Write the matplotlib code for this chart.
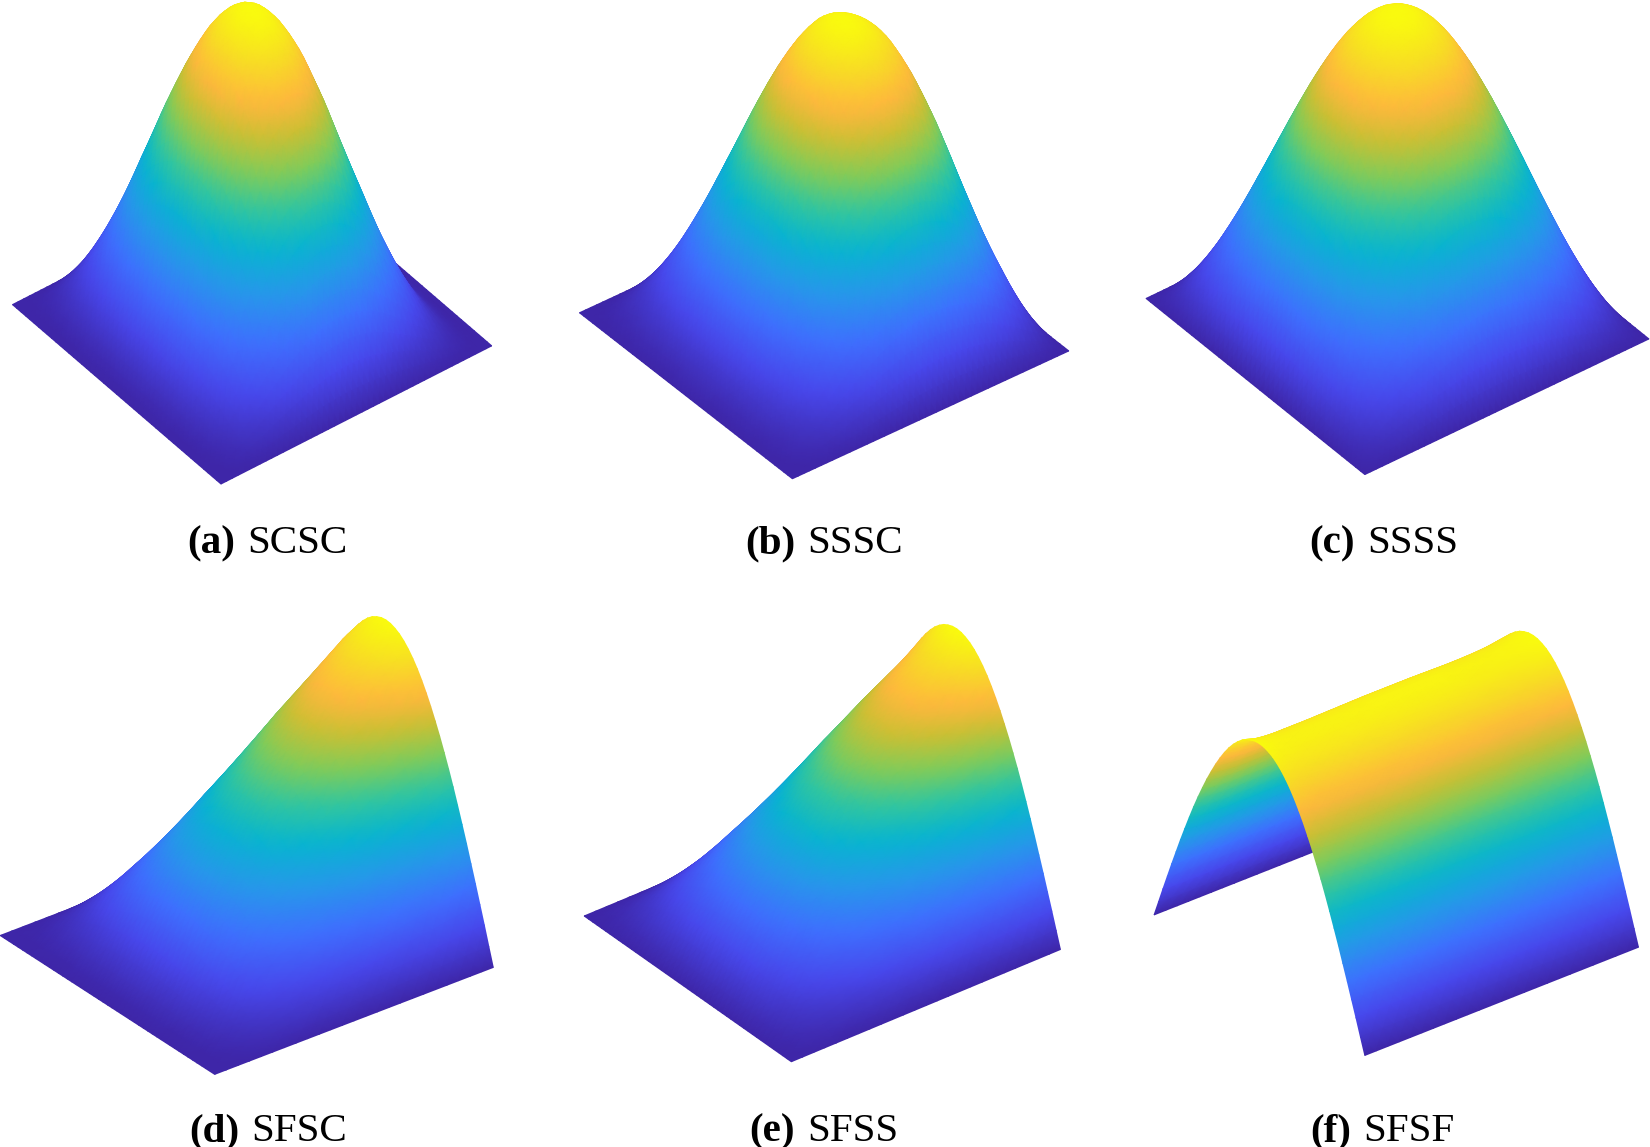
import numpy as np
import matplotlib
matplotlib.use("Agg")
import matplotlib.pyplot as plt
from matplotlib.collections import QuadMesh
from matplotlib.colors import LinearSegmentedColormap
from mpl_toolkits.mplot3d import proj3d

# ---- values: normalised deflection along each plate edge
SS = [0, .065, .131, .195, .259, .321, .383, .442, .5, .556, .609, .659, .707, .751, .793, .831,
      .866, .897, .924, .947, .966, .981, .991, .998, 1,
      .998, .991, .981, .966, .947, .924, .897, .866, .831, .793, .751, .707, .659, .609, .556,
      .5, .442, .383, .321, .259, .195, .131, .065, 0]
CC = [0, .005, .02, .045, .08, .12, .17, .222, .28, .34, .40, .465, .53, .59, .65, .71,
      .77, .82, .87, .908, .94, .965, .985, .996, 1,
      .996, .985, .965, .94, .908, .87, .82, .77, .71, .65, .59, .53, .465, .40, .34,
      .28, .222, .17, .12, .08, .045, .02, .005, 0]
CS = [0, .012, .028, .05, .078, .11, .148, .19, .236, .285, .336, .39, .445, .5, .555, .61,
      .66, .71, .757, .8, .842, .88, .912, .94, .962, .98, .992, 1,
      .998, .99, .98, .965, .947, .925, .897, .86, .82, .772, .72, .658, .59, .522,
      .45, .38, .31, .233, .155, .078, 0]
CF = [0, .01, .04, .08, .13, .19, .25, .31, .365, .42, .465, .51, .555, .60, .64,
      .68, .72, .76, .80, .835, .87, .905, .94, .975, 1]
SF = [0, .04, .09, .14, .19, .24, .29, .34, .39, .44, .49, .53, .57, .61, .65,
      .69, .73, .765, .80, .835, .865, .895, .925, .96, 1]
FF = [1, .985, .978, .975, .975, .975, .975, .976, .977, .978, .979, .98, .98,
      .98, .98, .98, .979, .978, .977, .977, .978, .98, .984, .992, 1]

bold_labels = ["(a)", "(b)", "(c)", "(d)", "(e)", "(f)"]
case_labels = ["SCSC", "SSSC", "SSSS", "SFSC", "SFSS", "SFSF"]
x_profiles = [CC, CS, SS, CF, SF, FF]
y_profiles = [SS, SS, SS, SS, SS, SS]

# ---- layout and style
PARULA = [(0, (.2422, .1504, .6603)), (.125, (.2803, .2782, .9221)),
          (.245, (.2440, .4358, .9988)), (.36, (.1540, .5902, .9218)),
          (.475, (.0297, .7082, .8163)), (.57, (.1938, .7758, .6251)),
          (.66, (.5044, .7993, .3480)), (.75, (.80, .75, .20)),
          (.825, (.996, .72, .24)), (.92, (.97, .87, .14)),
          (1, (.9763, .9831, .0538))]
cmap = LinearSegmentedColormap.from_list("parula", PARULA, 256)
W, H = 1650, 1147
S = 1650 / 1568
elevs = [41.5, 36.9, 38.3, 29.9, 32.8, 30.9]
azim = -127.6
z_aspect = [1.235, 1.09, 1.09, .912, .868, .815]
front = [(210, 460), (753, 455), (1297, 451), (204, 1021), (752, 1009), (1297, 1003)]
right = [(467, 328), (1016, 334), (1567, 322), (469, 920), (1008, 903), (1557, 900)]
cap_split = [235, 795, 1355, 239, 795, 1351]
cap_base = [553, 553, 553, 1141, 1141, 1141]
CAP_SIZE = 29.6


class GouraudSurface3D(QuadMesh):
    """Height field drawn with smooth colour, projected by its Axes3D."""

    def __init__(self, ax, X, Y, Z, **kw):
        self._ax3 = ax
        self._xyz = (X.ravel(), Y.ravel(), Z.ravel())
        super().__init__(np.stack([X, Y], -1).astype(float), shading="gouraud", **kw)
        self.set_array(Z)

    def do_3d_projection(self):
        xs, ys, zs = proj3d.proj_transform(*self._xyz, self._ax3.M)
        self._coordinates = np.stack([xs, ys], -1).reshape(self._coordinates.shape)
        return float(np.min(zs))


def to_px(ax, x, y, z):
    xs, ys, _ = proj3d.proj_transform(np.array([x], float), np.array([y], float),
                                      np.array([z], float), ax.get_proj())
    return ax.transData.transform(np.c_[xs, ys])[0]


fig = plt.figure(figsize=(W / 100, H / 100), dpi=100, facecolor="white")

for i in range(6):
    ax = fig.add_axes([0, 0, 500 / W, 500 / H], projection="3d", proj_type="ortho")
    ax.view_init(elev=elevs[i], azim=azim)
    ax.set_box_aspect((1, 1, z_aspect[i]))
    ax.set_xlim(0, 1)
    ax.set_ylim(0, 1)
    ax.set_zlim(0, 1)
    ax.set_axis_off()
    ax.patch.set_visible(False)

    # place the axes so the plate corners land where they are in the picture
    f_t = np.array([front[i][0] * S, H - front[i][1] * S])
    r_t = np.array([right[i][0] * S, H - right[i][1] * S])
    size, x0, y0 = 500.0, 0.0, 0.0
    for _ in range(3):
        ax.set_position([x0 / W, y0 / H, size / W, size / H])
        ax.apply_aspect()
        f_p, r_p = to_px(ax, 0, 0, 0), to_px(ax, 1, 0, 0)
        size *= np.linalg.norm(r_t - f_t) / np.linalg.norm(r_p - f_p)
        ax.set_position([x0 / W, y0 / H, size / W, size / H])
        ax.apply_aspect()
        f_p = to_px(ax, 0, 0, 0)
        x0 += f_t[0] - f_p[0]
        y0 += f_t[1] - f_p[1]
    ax.set_position([x0 / W, y0 / H, size / W, size / H])

    xp = np.array(x_profiles[i])[::-1]
    yp = np.array(y_profiles[i])[::-1]
    xg = np.linspace(1, 0, xp.size)
    yg = np.linspace(1, 0, yp.size)
    X, Y = np.meshgrid(xg, yg)
    Z = np.outer(yp, xp)
    mesh = GouraudSurface3D(ax, X, Y, Z, cmap=cmap)
    mesh.set_clim(0, 1)
    mesh.set_clip_on(False)
    ax.M = ax.get_proj()
    ax.add_collection(mesh, autolim=False)

    fig.text(cap_split[i] / W, 1 - cap_base[i] / H, bold_labels[i], ha="right", va="baseline",
             family="Liberation Serif", weight="bold", fontsize=CAP_SIZE, color="black")
    fig.text((cap_split[i] + 12) / W, 1 - cap_base[i] / H, case_labels[i], ha="left", va="baseline",
             family="Liberation Serif", fontsize=CAP_SIZE, color="black")

fig.savefig("out.png", dpi=100)
